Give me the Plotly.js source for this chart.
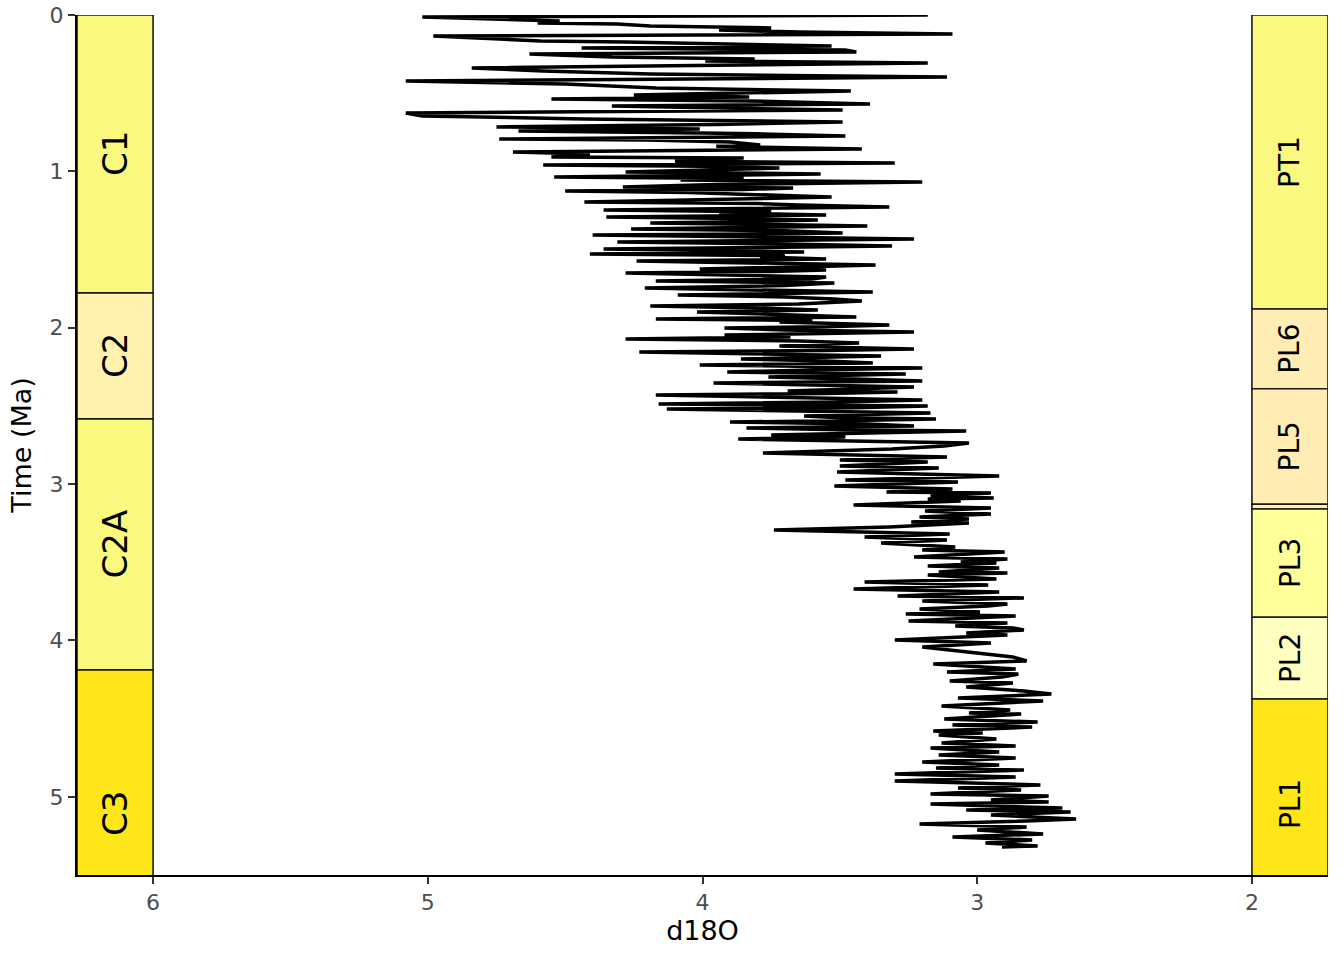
<!DOCTYPE html>
<html><head><meta charset="utf-8">
<script src="https://cdn.plot.ly/plotly-3.0.1.min.js"></script>
<style>html,body{margin:0;padding:0;background:#fff}</style>
</head><body><div id="chart" style="width:1344px;height:960px"></div>
<script>
// main d18O record: age (Ma) and d18O (per mil)
const timeMa = [0.000,0.013,0.038,0.051,0.058,0.070,0.083,0.096,0.109,0.122,0.134,0.153,0.166,0.173,0.185,0.198,0.211,0.224,0.237,0.249,
0.269,0.281,0.294,0.307,0.339,0.358,0.377,0.397,0.422,0.441,0.467,0.486,0.512,0.524,0.537,0.550,0.569,0.582,0.608,0.627,
0.646,0.652,0.665,0.684,0.716,0.729,0.742,0.755,0.774,0.793,0.812,0.831,0.857,0.876,0.889,0.908,0.921,0.947,0.959,0.979,
1.004,1.017,1.036,1.055,1.068,1.100,1.106,1.126,1.145,1.164,1.196,1.215,1.228,1.247,1.266,1.279,1.292,1.311,1.330,1.349,
1.369,1.394,1.407,1.420,1.433,1.452,1.477,1.497,1.516,1.529,1.548,1.561,1.573,1.599,1.624,1.631,1.650,1.676,1.701,1.714,
1.746,1.772,1.791,1.816,1.829,1.861,1.874,1.887,1.899,1.931,1.944,1.963,1.983,2.002,2.027,2.047,2.059,2.072,2.098,2.117,
2.136,2.155,2.181,2.200,2.226,2.238,2.258,2.283,2.296,2.315,2.341,2.354,2.379,2.405,2.411,2.430,2.462,2.488,2.501,2.520,
2.545,2.565,2.584,2.603,2.629,2.641,2.660,2.686,2.699,2.712,2.737,2.756,2.776,2.801,2.827,2.846,2.859,2.884,2.897,2.923,
2.948,2.974,2.987,3.012,3.031,3.051,3.057,3.076,3.089,3.095,3.108,3.134,3.153,3.172,3.191,3.211,3.223,3.242,3.249,3.274,
3.294,3.319,3.338,3.358,3.377,3.402,3.422,3.434,3.466,3.479,3.498,3.505,3.524,3.537,3.562,3.569,3.581,3.607,3.626,3.645,
3.671,3.690,3.716,3.728,3.748,3.767,3.780,3.799,3.818,3.831,3.844,3.876,3.888,3.908,3.920,3.933,3.952,3.965,3.997,4.016,
4.042,4.061,4.080,4.106,4.131,4.151,4.183,4.202,4.215,4.234,4.259,4.272,4.298,4.323,4.343,4.368,4.387,4.419,4.445,4.464,
4.470,4.502,4.522,4.541,4.554,4.579,4.592,4.605,4.630,4.656,4.675,4.688,4.713,4.733,4.752,4.778,4.797,4.816,4.829,4.854,
4.873,4.899,4.924,4.944,4.956,4.982,4.995,5.020,5.033,5.046,5.072,5.084,5.097,5.116,5.142,5.155,5.174,5.193,5.212,5.238,
5.257,5.276,5.295,5.314,5.321];
const d18O = [3.18,5.02,4.52,4.60,4.31,4.19,3.75,3.94,3.65,3.09,4.98,4.77,4.59,4.28,3.83,3.53,4.44,3.48,3.44,4.63,
4.33,3.81,3.99,3.18,4.84,4.58,4.19,3.11,5.08,4.50,4.17,3.46,4.25,3.83,4.55,3.83,3.39,4.33,3.49,5.08,
5.02,4.80,4.43,3.49,4.75,4.01,4.67,4.01,3.48,4.74,3.90,3.79,3.42,4.69,4.41,4.55,4.01,3.30,4.58,3.72,
4.28,3.57,4.54,4.08,3.20,4.29,3.67,4.50,3.90,3.53,4.43,3.65,3.32,4.36,3.94,3.55,4.35,3.58,4.19,3.40,
4.26,3.49,4.40,3.79,3.23,4.31,3.31,4.36,3.63,4.41,3.79,3.55,4.24,3.37,4.01,3.55,4.28,3.55,4.17,3.52,
4.21,3.38,4.09,3.52,3.42,4.19,3.79,3.58,4.02,3.44,4.17,3.72,3.32,3.92,3.23,3.92,3.68,4.28,3.43,3.72,
3.23,4.23,3.35,3.86,3.38,4.01,3.20,3.91,3.26,3.76,3.20,3.96,3.23,3.69,3.29,4.17,3.20,4.16,3.18,4.13,
3.17,3.63,3.15,3.90,3.23,3.84,3.04,3.75,3.48,3.87,3.03,3.12,3.31,3.78,3.11,3.50,3.18,3.50,3.14,3.51,
2.92,3.48,3.07,3.52,3.09,3.33,2.95,3.17,2.94,3.18,3.06,3.45,2.95,3.19,2.95,3.21,3.03,3.24,3.03,3.32,
3.74,3.10,3.41,3.11,3.35,3.08,3.20,2.90,3.23,2.89,3.06,2.93,3.18,2.92,3.14,2.89,3.18,2.93,3.41,2.96,
3.45,2.92,3.29,2.83,3.20,2.89,2.96,3.21,2.99,3.26,2.86,3.25,2.89,3.08,2.87,2.83,3.04,2.89,3.30,2.95,
3.20,3.10,3.00,2.87,2.82,3.16,2.86,3.11,2.85,2.91,3.10,2.87,3.04,2.83,2.73,3.07,2.76,3.13,2.88,3.03,
2.84,3.12,2.78,3.09,2.80,3.16,2.98,3.14,2.93,3.13,2.86,3.17,2.92,3.14,2.86,3.20,2.92,3.15,2.83,3.30,
2.86,3.30,2.77,3.07,2.84,3.17,2.74,2.95,2.74,3.17,2.69,3.04,2.66,2.95,2.64,2.82,3.21,2.82,3.00,2.76,
3.09,2.80,2.97,2.78,2.91];

// additional intermediate samples in the dense core
const timeMid = [0.700,0.735,0.760,0.800,0.840,0.865,0.915,0.935,0.968,0.990,1.010,1.026,1.045,1.084,1.116,1.135,1.155,1.180,1.206,1.238,
1.258,1.300,1.320,1.340,1.359,1.380,1.401,1.442,1.465,1.487,1.507,1.539,1.586,1.611,1.640,1.664,1.688,1.730,1.759,1.803,
1.848,1.915,1.954,1.993,2.015,2.085,2.107,2.145,2.168,2.190,2.213,2.248,2.270,2.306,2.328,2.367,2.392,2.421,2.446,2.475,
2.511,2.533,2.555,2.575,2.594,2.616,2.652,2.673];
const d18OMid = [3.95,4.35,3.80,4.20,3.95,4.05,3.85,4.10,4.00,3.95,3.90,4.05,3.85,3.95,3.85,4.05,3.70,3.95,3.80,3.90,
3.75,3.95,3.80,3.75,3.85,3.70,3.80,3.75,3.70,3.80,3.90,3.70,3.80,3.65,3.75,3.80,3.60,3.70,3.80,3.70,
3.65,3.70,3.60,3.55,3.70,3.65,3.60,3.55,3.70,3.60,3.55,3.50,3.60,3.55,3.45,3.50,3.45,3.55,3.60,3.50,
3.45,3.55,3.40,3.50,3.45,3.40,3.50,3.35];

const chronNames = ['C1','C2','C2A','C3'];
const chronTop = [0, 1.777, 2.583, 4.188];
const chronBase = [1.777, 2.583, 4.188, 6.03];
const chronColors = ['#F9F97F','#FFF2AE','#F9F97F','#FFE619'];

const zoneNames = ['PT1','PL6','PL5','PL4','PL3','PL2','PL1'];
const zoneTop = [0, 1.880, 2.390, 3.129, 3.159, 3.852, 4.374];
const zoneBase = [1.880, 2.390, 3.129, 3.159, 3.852, 4.374, 5.72];
const zoneColors = ['#F9F97F','#FFEDB3','#FFEDB3','#FFEDB3','#FFFF99','#FFFFBF','#FFE619'];

const xTicks = [6,5,4,3,2];
const yTicks = [0,1,2,3,4,5];

const xLo = 6.277, xHi = 1.723;
const leftEdge = 6.0, rightEdge = 2.0;
const FONT = 'DejaVu Sans, Liberation Sans, sans-serif';

// merge all samples in age order
const samples = timeMa.map((t,i)=>[t,d18O[i]]).concat(timeMid.map((t,i)=>[t,d18OMid[i]]))
  .sort((a,b)=>a[0]-b[0]);

const shapes = [];
const annotations = [];
chronNames.forEach((n,i)=>{
  shapes.push({type:'rect', xref:'x', yref:'y', x0:xLo, x1:leftEdge, y0:chronTop[i], y1:chronBase[i],
    fillcolor:chronColors[i], line:{color:'#1a1a1a', width:1.6}, layer:'below'});
  annotations.push({x:(xLo+leftEdge)/2, y:(chronTop[i]+chronBase[i])/2, xref:'x', yref:'y', text:n,
    showarrow:false, textangle:-90, font:{family:FONT, size:34, color:'#000'}});
});
zoneNames.forEach((n,i)=>{
  shapes.push({type:'rect', xref:'x', yref:'y', x0:rightEdge, x1:xHi, y0:zoneTop[i], y1:zoneBase[i],
    fillcolor:zoneColors[i], line:{color:'#1a1a1a', width:1.6}, layer:'below'});
  if (zoneBase[i]-zoneTop[i] > 0.2) {
    annotations.push({x:(rightEdge+xHi)/2, y:(zoneTop[i]+zoneBase[i])/2, xref:'x', yref:'y', text:n,
      showarrow:false, textangle:-90, font:{family:FONT, size:28, color:'#000'}});
  }
});

const trace = {x:samples.map(s=>s[1]), y:samples.map(s=>s[0]), type:'scatter', mode:'lines',
  line:{color:'#000', width:3.5}, hoverinfo:'skip', showlegend:false};

const axisCommon = {showgrid:false, zeroline:false, showline:true, linecolor:'#000', linewidth:2,
  ticks:'outside', ticklen:7, tickwidth:2, tickcolor:'#333',
  tickfont:{family:FONT, size:22, color:'#4D4D4D'}, mirror:false};

const layout = {
  width:1344, height:960,
  margin:{l:77, r:16, t:15, b:85},
  paper_bgcolor:'#fff', plot_bgcolor:'#fff',
  xaxis:Object.assign({}, axisCommon, {range:[xLo,xHi], tickvals:xTicks, ticktext:xTicks.map(String),
    title:{text:'d18O', font:{family:FONT, size:27, color:'#000'}, standoff:6}}),
  yaxis:Object.assign({}, axisCommon, {range:[5.5,0], tickvals:yTicks, ticktext:yTicks.map(String),
    title:{text:'Time (Ma)', font:{family:FONT, size:27, color:'#000'}, standoff:10}}),
  shapes:shapes, annotations:annotations, showlegend:false
};
Plotly.newPlot('chart',[trace],layout,{displayModeBar:false, staticPlot:true});
</script></body></html>
